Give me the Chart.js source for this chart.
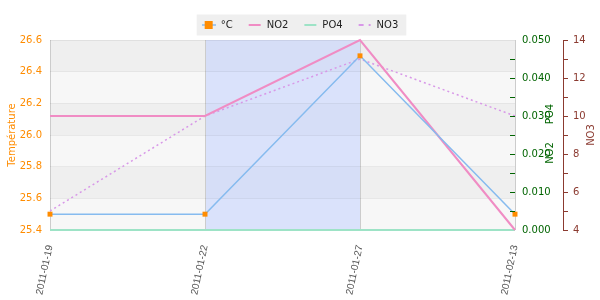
<!DOCTYPE html>
<html>
<head>
<meta charset="utf-8">
<script src="https://cdn.jsdelivr.net/npm/chart.js@4/dist/chart.umd.min.js"></script>
<style>
  html, body { margin: 0; padding: 0; background: #ffffff; }
  #wrap { width: 600px; height: 300px; position: relative; }
</style>
</head>
<body>
<div id="wrap"><canvas id="c"></canvas></div>
<script>
// ---- data ----
const categories = ['2011-01-19', '2011-01-22', '2011-01-27', '2011-02-13'];
const tempValues = [25.5, 25.5, 26.5, 25.5];
const no2Values  = [0.03, 0.03, 0.05, 0.0];
const po4Values  = [0, 0, 0, 0];
const no3Values  = [5, 10, 13, 10];
const seriesNames = ['°C', 'NO2', 'PO4', 'NO3'];
const highlightRange = ['2011-01-22', '2011-01-27'];

// ---- style ----
const ORANGE = '#ff8c00';
const GREEN = '#006400';
const BROWN = '#8b3a30';
const BLUE_LINE = '#86bbef';
const PINK = '#f08cc4';
const MINT = '#9de3c6';
const PURPLE = '#d898e8';
const LEGEND_PAD = 15;
const LEGEND_TOP = 5;

Chart.defaults.font.family = "'DejaVu Sans', sans-serif";
Chart.defaults.font.size = 10;

function makeIcon(draw) {
  const cv = document.createElement('canvas');
  cv.width = 14; cv.height = 10;
  const g = cv.getContext('2d');
  draw(g);
  return cv;
}
const icons = [
  makeIcon(g => { g.strokeStyle = BLUE_LINE; g.lineWidth = 1.5; g.beginPath(); g.moveTo(0, 5); g.lineTo(14, 5); g.stroke(); g.fillStyle = ORANGE; g.fillRect(3, 1, 8, 8); }),
  makeIcon(g => { g.strokeStyle = PINK; g.lineWidth = 2; g.beginPath(); g.moveTo(1, 5); g.lineTo(13, 5); g.stroke(); }),
  makeIcon(g => { g.strokeStyle = MINT; g.lineWidth = 2; g.beginPath(); g.moveTo(1, 5); g.lineTo(13, 5); g.stroke(); }),
  makeIcon(g => { g.strokeStyle = PURPLE; g.lineWidth = 2; g.setLineDash([5, 5]); g.beginPath(); g.moveTo(1, 5); g.lineTo(13, 5); g.stroke(); })
];

const decor = {
  id: 'decor',
  beforeUpdate(chart) {
    if (chart.legend && !chart.legend._patched) {
      chart.legend._patched = true;
      chart.legend.afterFit = function () { this.height = 40 - LEGEND_TOP; };
    }
  },
  beforeDraw(chart) {
    const ctx = chart.ctx;
    const a = chart.chartArea;
    const ys = chart.scales.y;
    const xs = chart.scales.x;
    ctx.save();
    // stripes
    const ticks = ys.ticks;
    for (let i = 0; i < ticks.length - 1; i++) {
      const y1 = ys.getPixelForValue(ticks[i].value);
      const y2 = ys.getPixelForValue(ticks[i + 1].value);
      const fromTop = ticks.length - 2 - i;
      ctx.fillStyle = (fromTop % 2 === 0) ? '#efefef' : '#f7f7f7';
      ctx.fillRect(a.left, Math.min(y1, y2), a.right - a.left, Math.abs(y2 - y1));
    }
    // highlight band
    const bx1 = xs.getPixelForValue(categories.indexOf(highlightRange[0]));
    const bx2 = xs.getPixelForValue(categories.indexOf(highlightRange[1]));
    ctx.fillStyle = 'rgba(190,205,255,0.5)';
    ctx.fillRect(bx1, a.top, bx2 - bx1, a.bottom - a.top);
    // legend background
    const lg = chart.legend;
    if (lg && lg.legendHitBoxes && lg.legendHitBoxes.length) {
      const hb = lg.legendHitBoxes;
      let l = Infinity, r = -Infinity;
      hb.forEach(h => { l = Math.min(l, h.left); r = Math.max(r, h.left + h.width); });
      const cy = hb[0].top + hb[0].height / 2;
      ctx.fillStyle = '#efefef';
      ctx.fillRect(l - 5, cy - 10.5, r - l + 13, 21);
    }
    ctx.restore();
  },
  afterDraw(chart) {
    const ctx = chart.ctx;
    const a = chart.chartArea;
    const yn = chart.scales.yNO2;
    const y3 = chart.scales.yNO3;
    ctx.save();
    // inward green ticks
    ctx.strokeStyle = GREEN;
    ctx.lineWidth = 1;
    for (let k = 1; k < 10; k++) {
      const v = k * 0.005;
      const py = Math.round(yn.getPixelForValue(v)) + 0.5;
      ctx.beginPath();
      ctx.moveTo(a.right - 5, py);
      ctx.lineTo(a.right, py);
      ctx.stroke();
    }
    // right-side titles (read bottom to top)
    const midY = (a.top + a.bottom) / 2;
    ctx.font = "10px 'DejaVu Sans', sans-serif";
    ctx.textAlign = 'center';
    ctx.textBaseline = 'middle';
    ctx.fillStyle = GREEN;
    ctx.save(); ctx.translate(yn.left + 35, midY + 18); ctx.rotate(-Math.PI / 2); ctx.fillText('NO2', 0, 0); ctx.restore();
    ctx.save(); ctx.translate(yn.left + 35, midY - 21); ctx.rotate(-Math.PI / 2); ctx.fillText('PO4', 0, 0); ctx.restore();
    ctx.fillStyle = BROWN;
    ctx.save(); ctx.translate(y3.left + 28, midY); ctx.rotate(-Math.PI / 2); ctx.fillText('NO3', 0, 0); ctx.restore();
    ctx.restore();
  }
};

new Chart(document.getElementById('c'), {
  type: 'line',
  data: {
    labels: categories,
    datasets: [
      { label: seriesNames[0], data: tempValues, yAxisID: 'y', borderColor: BLUE_LINE, borderWidth: 1.5,
        pointStyle: 'rect', pointRadius: 3.5, pointBackgroundColor: ORANGE, pointBorderWidth: 0, clip: false },
      { label: seriesNames[1], data: no2Values, yAxisID: 'yNO2', borderColor: PINK, borderWidth: 2, pointRadius: 0, clip: false },
      { label: seriesNames[2], data: po4Values, yAxisID: 'yNO2', borderColor: MINT, borderWidth: 2, pointRadius: 0, clip: false },
      { label: seriesNames[3], data: no3Values, yAxisID: 'yNO3', borderColor: PURPLE, borderWidth: 1.5, borderDash: [2, 3], pointRadius: 0, clip: false }
    ]
  },
  options: {
    responsive: true,
    maintainAspectRatio: false,
    animation: false,
    layout: { padding: { top: LEGEND_TOP, left: 0, right: 0, bottom: 0 } },
    plugins: {
      tooltip: { enabled: false },
      legend: {
        position: 'top',
        labels: {
          color: '#222',
          usePointStyle: true,
          pointStyleWidth: 14,
          padding: LEGEND_PAD,
          font: { size: 10 },
          generateLabels(chart) {
            const items = Chart.defaults.plugins.legend.labels.generateLabels(chart);
            items.forEach((it, i) => { it.pointStyle = icons[i]; });
            return items;
          }
        }
      }
    },
    scales: {
      x: {
        offset: false,
        grid: { color: '#cccccc', drawTicks: false },
        border: { display: false },
        ticks: { color: '#555', minRotation: 78, maxRotation: 78, padding: 14, font: { family: "'Liberation Sans', Arial, sans-serif", size: 10 } },
        afterFit(s) { s.height = 70; }
      },
      y: {
        position: 'left',
        min: 25.4, max: 26.6,
        grid: { color: 'rgba(0,0,0,0.06)', drawTicks: false },
        border: { display: false },
        ticks: { stepSize: 0.2, color: ORANGE, padding: 8, callback: v => v.toFixed(1) },
        title: { display: true, text: 'Température', color: ORANGE, padding: { top: 6, bottom: 0 }, font: { size: 10 } },
        afterFit(s) { s.width = 50; }
      },
      yNO2: {
        position: 'right',
        min: 0, max: 0.05,
        grid: { display: false, drawTicks: false },
        border: { display: false },
        ticks: { stepSize: 0.01, color: GREEN, padding: 7, callback: v => v.toFixed(3) },
        afterFit(s) { s.width = 48; }
      },
      yNO3: {
        position: 'right',
        min: 4, max: 14,
        grid: { drawOnChartArea: false, color: BROWN, tickLength: 5 },
        border: { display: true, color: BROWN },
        ticks: { stepSize: 1, color: BROWN, padding: 5, autoSkip: false, callback: v => (v % 2 === 0 ? String(v) : '') },
        afterFit(s) { s.width = 37; }
      }
    }
  },
  plugins: [decor]
});
</script>
</body>
</html>
